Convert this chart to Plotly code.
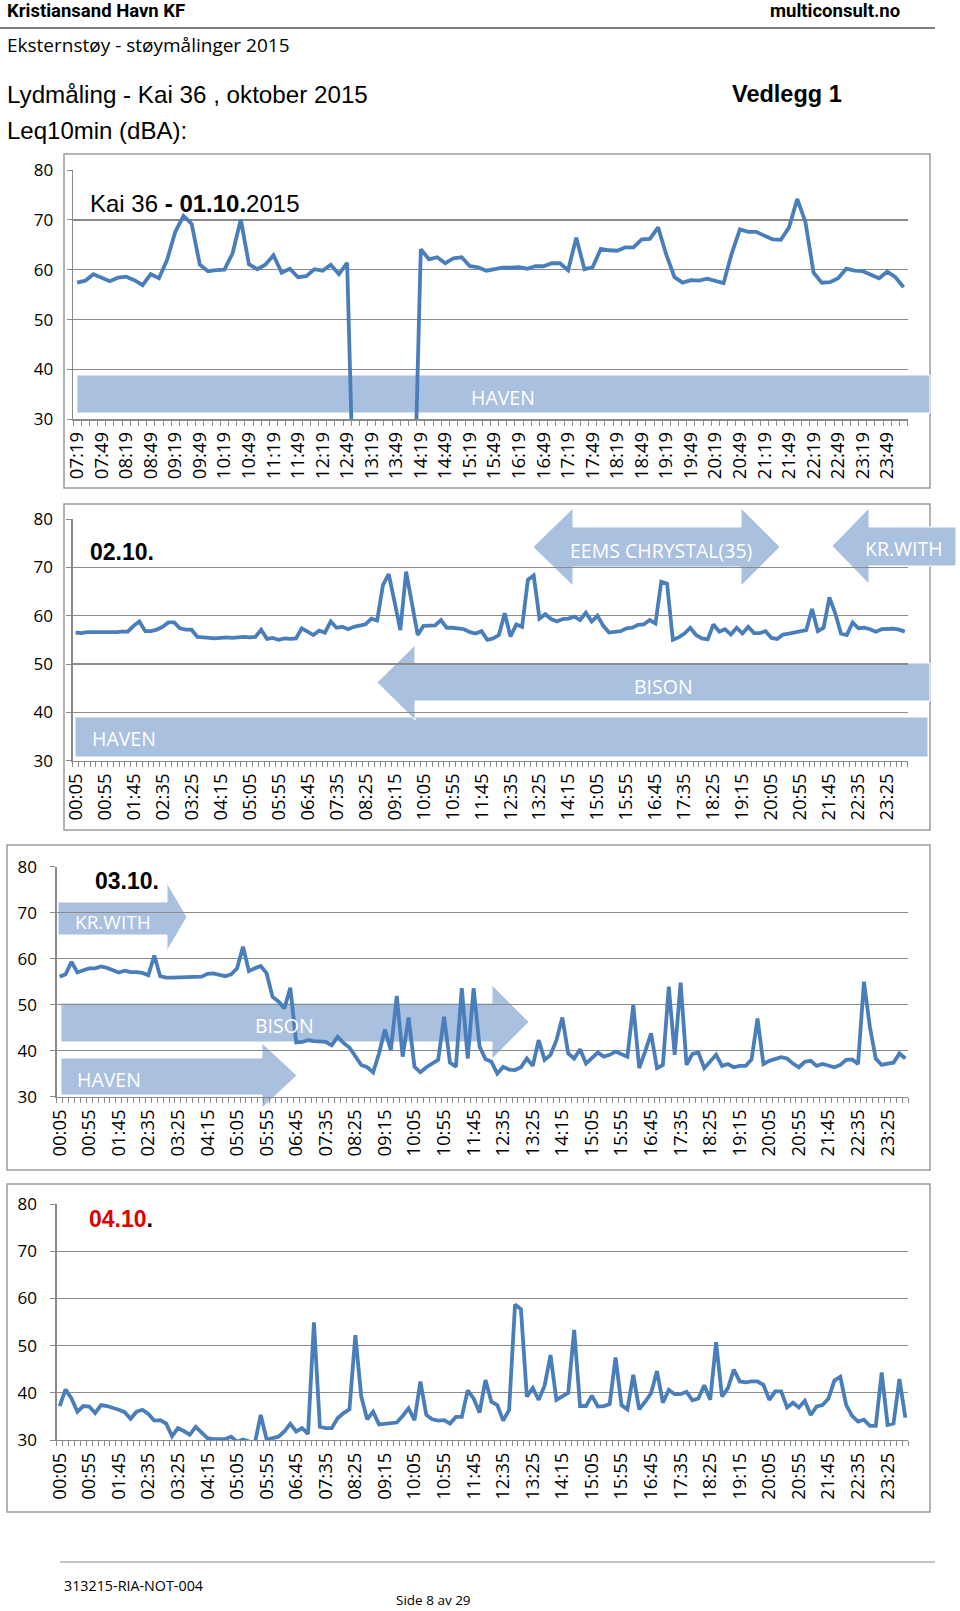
import plotly.graph_objects as go

W, H = 960, 1611

# ---------------- data ----------------
p1_tick_labels = ["07:19", "07:49", "08:19", "08:49", "09:19", "09:49", "10:19", "10:49",
                  "11:19", "11:49", "12:19", "12:49", "13:19", "13:49", "14:19", "14:49",
                  "15:19", "15:49", "16:19", "16:49", "17:19", "17:49", "18:19", "18:49",
                  "19:19", "19:49", "20:19", "20:49", "21:19", "21:49", "22:19", "22:49",
                  "23:19", "23:49"]

day_tick_labels = ["00:05", "00:55", "01:45", "02:35", "03:25", "04:15", "05:05", "05:55",
                   "06:45", "07:35", "08:25", "09:15", "10:05", "10:55", "11:45", "12:35",
                   "13:25", "14:15", "15:05", "15:55", "16:45", "17:35", "18:25", "19:15",
                   "20:05", "20:55", "21:45", "22:35", "23:25"]

# 01.10.2015, 10-min Leq from 07:19
p1_values = [57.4, 57.8, 59.1, 58.4, 57.7, 58.4, 58.6, 57.9, 56.9, 59.1,
             58.3, 62.0, 67.6, 70.8, 69.2, 61.0, 59.7, 59.9, 60.0, 63.3,
             70.1, 61.1, 60.1, 61.0, 62.9, 59.4, 60.2, 58.5, 58.7, 60.1,
             59.8, 61.0, 59.1, 61.4, 0, 0, 0, 0, 0, 0,
             0, 0, 64.1, 62.1, 62.5, 61.3, 62.3, 62.5, 60.7, 60.5,
             59.8, 60.1, 60.4, 60.4, 60.5, 60.2, 60.7, 60.7, 61.3, 61.3,
             59.9, 66.4, 60.1, 60.5, 64.2, 63.9, 63.8, 64.5, 64.5, 66.1,
             66.2, 68.5, 63.0, 58.5, 57.4, 57.9, 57.8, 58.2, 57.8, 57.3,
             63.3, 68.1, 67.6, 67.6, 66.8, 66.1, 66.0, 68.5, 74.2, 69.6,
             59.4, 57.4, 57.5, 58.3, 60.2, 59.8, 59.7, 58.9, 58.3, 59.6,
             58.5, 56.5]

# 02.10.
p2_values = [56.5, 56.4, 56.6, 56.6, 56.6, 56.5, 56.5, 56.6, 56.7, 56.7,
             57.9, 58.8, 56.8, 56.8, 57.1, 57.7, 58.6, 58.6, 57.4, 57.1,
             57.1, 55.6, 55.5, 55.4, 55.3, 55.4, 55.5, 55.4, 55.5, 55.6,
             55.5, 55.6, 57.1, 55.2, 55.4, 55.0, 55.3, 55.2, 55.3, 57.4,
             56.7, 56.0, 56.9, 56.5, 58.8, 57.5, 57.7, 57.2, 57.7, 58.0,
             58.2, 59.4, 59.0, 66.3, 68.6, 62.9, 57.0, 69.1, 62.9, 56.0,
             57.9, 57.9, 58.0, 59.1, 57.5, 57.5, 57.4, 57.2, 56.6, 56.3,
             56.8, 55.0, 55.3, 56.0, 60.5, 55.7, 58.2, 57.7, 67.4, 68.3,
             59.4, 60.3, 59.3, 58.8, 59.3, 59.4, 59.8, 59.1, 60.6, 58.8,
             60.0, 57.9, 56.5, 56.6, 56.8, 57.4, 57.5, 58.1, 58.2, 59.1,
             58.4, 67.0, 66.6, 55.0, 55.5, 56.3, 57.5, 56.0, 55.3, 55.1,
             58.2, 56.7, 57.2, 56.1, 57.5, 56.3, 57.7, 56.4, 56.4, 56.8,
             55.4, 55.2, 56.1, 56.3, 56.6, 56.9, 57.0, 61.4, 56.8, 57.5,
             63.8, 60.5, 56.3, 56.0, 58.6, 57.4, 57.5, 57.2, 56.7, 57.2,
             57.3, 57.3, 57.1, 56.7]

# 03.10.
p3_values = [56.1, 56.6, 59.3, 57.0, 57.5, 57.9, 57.9, 58.3, 58.0, 57.5,
             57.0, 57.4, 57.1, 57.1, 56.9, 56.4, 60.7, 56.2, 55.9, 55.9,
             55.9, 55.9, 55.9, 56.1, 56.1, 56.7, 56.8, 56.5, 56.2, 56.6,
             57.9, 62.6, 57.3, 57.9, 58.4, 56.8, 51.7, 50.7, 49.2, 53.7,
             41.8, 41.9, 42.3, 42.1, 42.0, 41.9, 41.2, 43.0, 41.7, 40.7,
             38.8, 36.9, 36.4, 35.3, 39.4, 44.6, 40.1, 51.9, 38.7, 47.2,
             36.5, 35.3, 36.4, 37.2, 38.0, 47.4, 37.4, 36.5, 53.6, 38.3,
             53.6, 40.9, 38.2, 37.6, 35.0, 36.5, 35.9, 35.8, 36.4, 38.3,
             36.7, 42.3, 38.0, 39.1, 42.3, 47.2, 39.4, 38.3, 40.3, 37.2,
             38.3, 39.6, 38.7, 39.1, 39.8, 39.3, 38.7, 49.9, 36.2, 39.8,
             43.8, 36.2, 36.9, 53.9, 39.1, 54.8, 36.9, 39.3, 39.6, 36.2,
             37.8, 39.1, 36.7, 37.1, 36.4, 36.7, 36.7, 38.1, 47.0, 37.1,
             37.8, 38.1, 38.6, 38.3, 37.2, 36.4, 37.6, 37.8, 36.7, 37.1,
             36.7, 36.4, 36.9, 38.0, 38.1, 37.1, 55.0, 45.2, 38.3, 36.9,
             37.2, 37.4, 39.4, 38.3]

# 04.10.
p4_values = [37.2, 40.7, 38.8, 36.0, 37.2, 37.1, 35.7, 37.4, 37.2, 36.9,
             36.4, 35.9, 34.5, 36.0, 36.4, 35.5, 34.1, 34.2, 33.5, 30.8,
             32.5, 31.9, 31.1, 32.8, 31.6, 30.4, 30.2, 30.2, 30.2, 30.7,
             29.6, 30.1, 29.6, 29.3, 35.3, 30.1, 30.4, 30.7, 31.8, 33.4,
             31.8, 32.5, 31.3, 54.9, 32.8, 32.5, 32.5, 34.6, 35.7, 36.5,
             52.2, 39.2, 34.4, 36.0, 33.3, 33.5, 33.7, 33.7, 35.1, 36.7,
             34.2, 42.4, 35.3, 34.4, 34.1, 34.2, 33.5, 34.9, 34.9, 40.5,
             38.8, 35.8, 42.7, 38.1, 37.4, 34.1, 36.4, 58.7, 57.7, 39.2,
             41.0, 38.5, 41.5, 48.0, 38.5, 39.2, 40.0, 53.3, 37.2, 37.2,
             39.4, 37.1, 37.2, 37.6, 47.5, 37.4, 36.5, 43.8, 36.5, 38.1,
             39.9, 44.6, 37.9, 40.6, 39.7, 39.7, 40.2, 38.4, 38.8, 41.6,
             38.5, 50.7, 39.2, 41.0, 44.9, 42.4, 42.2, 42.4, 42.4, 41.7,
             38.5, 40.3, 40.3, 36.9, 37.9, 36.9, 38.3, 35.3, 37.1, 37.4,
             38.8, 42.6, 43.4, 37.4, 35.1, 33.9, 34.3, 33.0, 33.0, 44.3,
             33.2, 33.5, 42.9, 34.7]

# ---------------- style ----------------
LINE = "rgb(74,126,187)"
GRID = "#8a8a8a"
FRAME = "#9a9a9a"
ARROW = "#A9C0DF"
XTICKFONT = dict(family="Open Sans, Noto Sans, sans-serif", size=18.5, color="#000000")
YTICKFONT = dict(family="Open Sans, Noto Sans, sans-serif", size=17, color="#000000")


def px(x):
    return x / W


def py(y):
    return 1 - y / H


fig = go.Figure()

panels = [
    # values, tick labels, label step, plot x px, plot y px
    (p1_values, p1_tick_labels, 3, (73.0, 907.7), (170.0, 419.3)),
    (p2_values, day_tick_labels, 5, (72.7, 907.7), (519.0, 760.7)),
    (p3_values, day_tick_labels, 5, (56.7, 908.3), (866.7, 1096.7)),
    (p4_values, day_tick_labels, 5, (56.7, 908.3), (1204.0, 1440.0)),
]

layout_axes = {}
for k, (vals, labels, step, (x0, x1), (y0, y1)) in enumerate(panels, start=1):
    n = len(vals)
    xs = list(range(n))
    fig.add_trace(go.Scatter(x=xs, y=vals, mode="lines",
                             line=dict(color=LINE, width=3.8, shape="linear"),
                             xaxis=f"x{k}", yaxis=f"y{k}", showlegend=False,
                             hoverinfo="skip"))
    tickvals = [i * step for i in range(len(labels))]
    sfx = "" if k == 1 else str(k)
    layout_axes[f"xaxis{sfx}"] = dict(
        domain=[px(x0), px(x1)], anchor=f"y{sfx}", range=[-0.5, n - 0.5],
        tickmode="array", tickvals=tickvals, ticktext=labels, tickangle=-90,
        ticks="", showgrid=False, zeroline=False, showline=True, automargin=False,
        linecolor=GRID, linewidth=1.3, tickfont=XTICKFONT, ticklabelstandoff=4,
        minor=dict(ticks="outside", tickmode="linear", tick0=-0.5, dtick=1,
                   ticklen=5, tickwidth=1, tickcolor=GRID, showgrid=False),
        fixedrange=True)
    layout_axes[f"yaxis{sfx}"] = dict(
        domain=[py(y1), py(y0)], anchor=f"x{sfx}", range=[30, 80], automargin=False,
        tickmode="linear", tick0=30, dtick=10, showgrid=True, gridcolor=GRID,
        gridwidth=1.3, zeroline=False, showline=True, linecolor=GRID,
        linewidth=1.3, ticks="outside", ticklen=5, tickcolor=GRID,
        tickfont=YTICKFONT, ticklabelstandoff=10, fixedrange=True)

shapes = []


def poly(points, fill=ARROW):
    path = "M " + " L ".join(f"{px(x):.5f},{py(y):.5f}" for x, y in points) + " Z"
    shapes.append(dict(type="path", xref="paper", yref="paper", path=path,
                       fillcolor=fill, line=dict(color="white", width=1),
                       layer="below"))


def rect(x0, y0, x1, y1):
    poly([(x0, y0), (x1, y0), (x1, y1), (x0, y1)])


def left_arrow(tip_x, base_x, end_x, head_t, head_b, sh_t, sh_b):
    cy = (head_t + head_b) / 2
    poly([(tip_x, cy), (base_x, head_t), (base_x, sh_t), (end_x, sh_t),
          (end_x, sh_b), (base_x, sh_b), (base_x, head_b)])


def right_arrow(start_x, base_x, tip_x, head_t, head_b, sh_t, sh_b):
    cy = (head_t + head_b) / 2
    poly([(start_x, sh_t), (base_x, sh_t), (base_x, head_t), (tip_x, cy),
          (base_x, head_b), (base_x, sh_b), (start_x, sh_b)])


def double_arrow(ltip, lbase, rbase, rtip, head_t, head_b, sh_t, sh_b):
    cy = (head_t + head_b) / 2
    poly([(ltip, cy), (lbase, head_t), (lbase, sh_t), (rbase, sh_t), (rbase, head_t),
          (rtip, cy), (rbase, head_b), (rbase, sh_b), (lbase, sh_b), (lbase, head_b)])


# frames
for (fx0, fy0, fx1, fy1) in [(64, 154, 930, 488), (64, 504, 930, 830),
                             (7, 845, 930, 1170), (7, 1184, 930, 1512)]:
    shapes.append(dict(type="rect", xref="paper", yref="paper",
                       x0=px(fx0), x1=px(fx1), y0=py(fy1), y1=py(fy0),
                       line=dict(color=FRAME, width=1.5), fillcolor="rgba(0,0,0,0)",
                       layer="below"))

# panel 1
rect(77, 375, 930, 413)
# panel 2
rect(75, 717, 928, 757)
left_arrow(377, 415, 930, 645, 720, 663, 701)
double_arrow(533, 573, 741, 780, 508, 586, 527, 567)
left_arrow(832, 869, 956, 508, 584, 527, 566)
# panel 3
right_arrow(58, 167, 187, 883, 951, 902, 935)
right_arrow(61, 492, 529, 985, 1059, 1003, 1042)
right_arrow(61, 262, 297, 1043, 1108, 1058, 1095)

# header / footer lines
shapes.append(dict(type="line", xref="paper", yref="paper", x0=0, x1=px(935),
                   y0=py(28), y1=py(28), line=dict(color="#555555", width=1.5)))
shapes.append(dict(type="line", xref="paper", yref="paper", x0=px(60), x1=px(935),
                   y0=py(1562), y1=py(1562), line=dict(color="#8a8a8a", width=1)))

ann = []


def text(x, y, s, size, family="Liberation Sans, Arial, sans-serif", color="black",
         xanchor="left", yanchor="middle"):
    ann.append(dict(x=px(x), y=py(y), xref="paper", yref="paper", text=s,
                    showarrow=False, xanchor=xanchor, yanchor=yanchor,
                    font=dict(family=family, size=size, color=color)))


HEAD = "Roboto, Open Sans, sans-serif"
CAL = "Open Sans, Noto Sans, sans-serif"
text(5, 11, "<b>Kristiansand Havn KF</b>", 18.5, HEAD)
text(902, 11, "<b>multiconsult.no</b>", 18.5, HEAD, xanchor="right")
text(5, 45, "Eksternstøy - støymålinger 2015", 19, CAL)
text(5, 94, "Lydmåling - Kai 36 , oktober 2015", 24.2)
text(730, 94, "<b>Vedlegg 1</b>", 23.5)
text(5, 130, "Leq10min (dBA):", 24)

text(88, 203, "Kai 36 <b>- 01.10.</b>2015", 24)
text(88, 552, "<b>02.10.</b>", 23)
text(93, 881, "<b>03.10.</b>", 23)
text(87, 1219, "<b><span style='color:#e00000'>04.10</span>.</b>", 23)

LBL = 19.5
text(503, 397, "HAVEN", LBL, CAL, "white", xanchor="center")
text(90, 738, "HAVEN", LBL, CAL, "white")
text(663, 686, "BISON", LBL, CAL, "white", xanchor="center")
text(661, 550, "EEMS CHRYSTAL(35)", LBL, CAL, "white", xanchor="center")
text(863, 548, "KR.WITH", LBL, CAL, "white")
text(73, 922, "KR.WITH", 19, CAL, "white")
text(284, 1025, "BISON", LBL, CAL, "white", xanchor="center")
text(75, 1079, "HAVEN", LBL, CAL, "white")

text(62, 1585, "313215-RIA-NOT-004", 14.3, CAL)
text(433, 1600, "Side 8 av 29", 13.5, CAL, xanchor="center")

fig.update_layout(
    width=W, height=H, autosize=False,
    margin=dict(l=0, r=0, t=0, b=0, pad=0, autoexpand=False),
    paper_bgcolor="white", plot_bgcolor="rgba(0,0,0,0)",
    showlegend=False, shapes=shapes, annotations=ann,
    **layout_axes)

fig.write_html("out.html", config={"displayModeBar": False, "staticPlot": True},
               post_script="document.body.style.margin='0';")
